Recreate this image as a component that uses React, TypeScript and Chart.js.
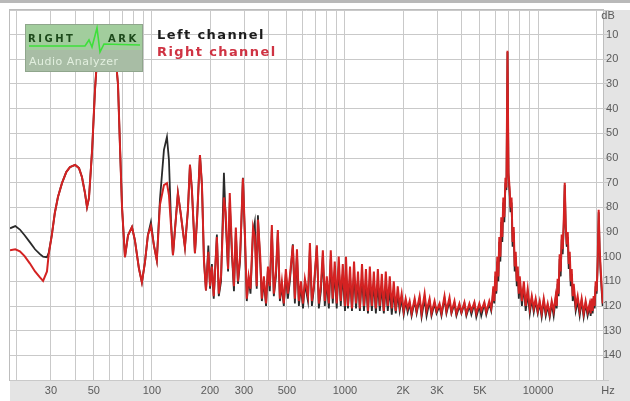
import React, { useEffect, useRef } from 'react';
import { Chart, registerables } from 'chart.js';

Chart.register(...registerables);

// ---------- data: frequency (Hz) and level (dB) ----------
const freqLow = [18.4, 19.6, 20.7, 21.9, 23.3, 24.8, 26.3, 27.3, 28.6, 29.2, 30.3, 31.4, 32.6, 34.2, 36.0, 37.6, 40.0, 41.9, 43.4, 45.0, 46.1, 47.2, 49.0, 50.7, 52.6, 55.8, 59.2, 60.6, 62.8, 65.0, 66.7, 68.3, 70.0, 72.5, 75.2, 78.8, 81.6, 85.6, 88.7, 92.0, 95.3, 98.8, 102.4, 106, 110, 115.4, 119.6, 122.5, 125.5, 128.5, 131.6, 136.3, 141.3, 148.2, 153.6, 157.4, 161.1, 167, 171.2, 177.3, 181.6, 186, 190.5];
const leftLow = [-88.5, -87.6, -89.0, -91.3, -94.1, -97.0, -99.0, -100.0, -100.2, -98.5, -91.3, -82.3, -75.8, -70.2, -65.7, -63.7, -62.8, -64.1, -67.7, -74.2, -79.9, -76.2, -56.7, -32.4, -14, -9, -7, -7.5, -10, -20, -30, -55, -80, -100.2, -91.3, -88.0, -93.3, -104.7, -110.4, -102.3, -91.3, -86.0, -95.4, -101.5, -77, -56.7, -51.5, -60.8, -85.2, -99.4, -89.2, -74.2, -83.2, -96.2, -81.1, -62.8, -73, -98.6, -85.2, -58.8, -71, -101.5, -113.7];
const rightLow = [-97.4, -97.0, -97.8, -99.8, -102.7, -106.0, -108.4, -109.8, -106.0, -99.0, -91.3, -82.3, -75.8, -70.2, -65.7, -63.7, -62.8, -64.1, -67.7, -74.2, -79.9, -76.2, -56.7, -32.4, -14, -9, -7, -7.5, -10, -20, -30, -55, -80, -100.2, -91.3, -88.0, -93.3, -104.7, -110.4, -102.3, -91.3, -87.6, -95.4, -101.5, -79, -71, -70.2, -75, -87.2, -99.4, -89.2, -74.2, -83.2, -96.2, -81.1, -62.8, -73, -98.6, -85.2, -58.8, -71, -101.5, -113.7];

const freqHarm = [196, 200, 204.5, 209, 217, 222, 228, 236, 241, 248, 253, 260, 266, 272, 279, 286, 296, 303, 310, 317, 324, 334, 341, 349, 354, 364, 371, 380, 390, 399, 408, 418, 428, 439, 449, 460, 471, 482, 494, 506, 518, 537, 550, 564, 577, 591, 606, 620, 643, 658, 674, 690, 715, 732, 750, 768, 786, 805, 825, 844, 864, 885, 906, 928, 951, 974, 1000];
const leftHarm = [-95.5, -113, -103, -117, -91, -116, -110, -66, -85, -106, -78, -100, -114, -90, -111, -102, -68, -92, -118, -109, -115, -90, -86, -113, -83.2, -103, -118, -110, -120, -105, -114, -89, -116, -108, -90, -118, -112, -120, -107, -117, -110, -95, -119, -99, -120, -112, -121, -111, -118, -97, -120, -113, -96, -121, -114, -100, -120, -110, -121, -101, -119, -106, -121, -104, -120, -107, -122];
const rightHarm = [-98, -112, -104, -116, -92, -115, -108, -76, -82, -105, -74.2, -98, -112, -88.2, -110, -100, -68.2, -90, -117, -108, -113, -88.2, -92, -112, -85, -100, -117, -108, -119, -104, -112, -87.2, -115, -106, -89.2, -117, -110, -119, -105, -115, -108, -95.4, -117, -97, -118, -110, -119, -109, -116, -94.5, -118, -112, -95.4, -119, -112, -97.4, -118, -108, -119, -97.4, -117, -102, -119, -100, -118, -103, -120];

const freqKilo = [1012, 1036, 1062, 1087, 1114, 1141, 1168, 1194, 1225, 1254, 1284, 1315, 1345, 1378, 1411, 1445, 1480, 1515, 1552, 1589, 1627, 1666, 1706, 1747, 1789, 1832, 1876, 1920, 1966, 2014, 2062, 2112];
const leftKilo = [-106, -121, -108, -122, -107, -121, -109, -122, -108, -122, -110, -123, -109, -122, -110, -123, -111, -122, -112, -123, -112, -122, -113, -123.5, -114, -123, -115, -122, -117, -123.5, -118, -122.5];
const rightKilo = [-100, -120, -104, -121, -102, -119, -106, -121, -103, -120, -105, -122, -104, -120, -106, -121, -105, -120, -107, -122, -106, -120, -108, -121, -110, -122, -112, -120, -115, -122, -117, -121];

const freqFloor = [2162, 2213, 2295, 2350, 2435, 2493, 2585, 2646, 2742, 2806, 2910, 2980, 3088, 3160, 3277, 3354, 3478, 3560, 3690, 3778, 3915, 4010, 4155, 4254, 4410, 4515, 4680, 4790, 4965, 5080, 5270, 5395, 5590, 5720];
const leftFloor = [-119, -124, -118, -123, -117, -124.5, -117, -124, -118, -124, -119, -123, -120, -124, -117, -123, -118, -123, -119, -124, -120, -123, -119, -124, -120, -123.5, -119, -124.5, -120, -124, -119, -123.5, -119, -122];
const rightFloor = [-118, -123, -117, -122, -116, -123, -115, -122, -117, -123, -118, -122, -119, -123, -116, -122, -116.5, -122.5, -118, -123, -119, -122.5, -118.5, -123, -119, -122, -118.5, -123, -119, -122, -118.5, -122.5, -118, -121];

const freqTone7k = [5800, 5870, 5935, 6010, 6080, 6150, 6230, 6300, 6380, 6450, 6530, 6610, 6690, 6780, 6860, 6945, 7030, 7120, 7200, 7290, 7380, 7480, 7570, 7660, 7760, 7850, 7950, 8040, 8250, 8440, 8630, 8840, 9060];
const leftTone7k = [-118, -113, -119, -108, -115, -102, -110, -94, -102, -86, -94, -78, -86, -70, -73, -17, -67, -74, -82, -78, -96, -90, -106, -100, -112, -106, -117, -110, -120, -112, -122, -115, -123];
const rightTone7k = [-117, -112, -118, -106, -114, -100, -108, -92, -100, -84, -92, -76, -84, -68, -72, -16.5, -66, -72, -80, -76, -94, -88, -104, -98, -110, -104, -115, -108, -118, -110, -120, -113, -121];

const freqMidHigh = [9280, 9500, 9720, 9960, 10200, 10440, 10700, 10960, 11220, 11490, 11770, 12050, 12340, 12490];
const leftMidHigh = [-117, -122.5, -118, -123, -119, -124.5, -118, -124, -120, -124.5, -119, -124, -117, -121];
const rightMidHigh = [-116, -121, -117, -122, -118, -123, -117, -122.5, -119, -123.5, -118, -122, -116, -120];

const freqTone14k = [12630, 12780, 12940, 13100, 13260, 13420, 13580, 13750, 13910, 14080, 14250, 14420, 14590, 14770, 14940, 15120, 15300, 15670, 16040, 16430, 16820, 17230, 17640, 18060, 18510, 18730, 18950, 19180, 19410, 19640];
const leftTone14k = [-111, -116, -101, -108, -93, -99, -88, -71, -88, -96, -92, -105, -100, -112, -107, -118, -113, -122, -118, -124, -118, -124.5, -119, -124, -120, -124, -118, -123, -117, -121];
const rightTone14k = [-109, -115, -99, -106, -91, -97, -86, -70, -87, -95, -90, -103, -98, -110, -105, -116, -111, -120, -116, -122, -117, -123, -118, -122.5, -119, -123, -117, -122, -116, -120];

const freqTone21k = [19880, 20120, 20360, 20610, 20860, 21110, 21360, 21620];
const leftTone21k = [-112, -115, -104, -82, -98, -107, -114, -120];
const rightTone21k = [-110, -114, -102, -81, -97, -105, -112, -119];

// ---------- axes / labels ----------
const xGridValues = [20, 30, 40, 50, 60, 70, 80, 90, 100, 200, 300, 400, 500, 600, 700, 800, 900, 1000, 2000, 3000, 4000, 5000, 6000, 7000, 8000, 9000, 10000, 20000];
const xTickLabels: Record<number, string> = { 30: '30', 50: '50', 100: '100', 200: '200', 300: '300', 500: '500', 1000: '1000', 2000: '2K', 3000: '3K', 5000: '5K', 10000: '10000' };
const xUnit = 'Hz';
const yUnit = 'dB';
const seriesNames = ['Left channel', 'Right channel'];
const logoWords = ['RIGHT', 'ARK', 'Audio Analyzer'];

const tickFamily = '"Liberation Sans", Arial, sans-serif';

export default function App() {
  const ref = useRef<HTMLCanvasElement>(null);

  useEffect(() => {
    document.body.style.margin = '0';
    const freqs = [...freqLow, ...freqHarm, ...freqKilo, ...freqFloor, ...freqTone7k, ...freqMidHigh, ...freqTone14k, ...freqTone21k];
    const left = [...leftLow, ...leftHarm, ...leftKilo, ...leftFloor, ...leftTone7k, ...leftMidHigh, ...leftTone14k, ...leftTone21k];
    const right = [...rightLow, ...rightHarm, ...rightKilo, ...rightFloor, ...rightTone7k, ...rightMidHigh, ...rightTone14k, ...rightTone21k];
    const toPts = (vals: number[]) => freqs.map((f, i) => ({ x: f, y: vals[i] }));

    const decor = {
      id: 'decor',
      beforeDraw(chart: any) {
        const { ctx, width, height, chartArea: a } = chart;
        ctx.save();
        ctx.fillStyle = '#ffffff';
        ctx.fillRect(0, 0, width, height);
        ctx.fillStyle = '#b9b9b9';
        ctx.fillRect(0, 0, width, 3);
        ctx.fillStyle = '#e4e4e4';
        ctx.fillRect(a.right, a.top, width - a.right, height - a.top);
        ctx.fillRect(a.left, a.bottom, a.right - a.left, height - a.bottom);
        ctx.strokeStyle = '#bdbdbd';
        ctx.lineWidth = 1;
        ctx.strokeRect(a.left - 0.5, a.top - 0.5, a.right - a.left + 1, a.bottom - a.top + 1);
        ctx.restore();
      },
      afterDatasetsDraw(chart: any) {
        const { ctx } = chart;
        ctx.save();
        // logo
        ctx.fillStyle = '#a2cd9d';
        ctx.fillRect(25, 24, 118, 26);
        ctx.fillStyle = '#a8bda5';
        ctx.fillRect(25, 50, 118, 22);
        ctx.strokeStyle = '#8fa68c';
        ctx.lineWidth = 1;
        ctx.strokeRect(25.5, 24.5, 117, 47);
        ctx.strokeStyle = '#3ee03a';
        ctx.lineWidth = 1.6;
        ctx.beginPath();
        ctx.moveTo(29, 46);
        ctx.lineTo(85, 46);
        ctx.lineTo(89, 40);
        ctx.lineTo(92, 47);
        ctx.lineTo(97, 28);
        ctx.lineTo(100, 52);
        ctx.lineTo(104, 44);
        ctx.lineTo(140, 45);
        ctx.stroke();
        ctx.fillStyle = '#1d4a1b';
        ctx.font = 'bold 10px "DejaVu Sans", sans-serif';
        ctx.textBaseline = 'middle';
        ctx.textAlign = 'left';
        (ctx as any).letterSpacing = '2.5px';
        ctx.fillText(logoWords[0], 28, 39);
        ctx.fillText(logoWords[1], 108, 39);
        (ctx as any).letterSpacing = '0.5px';
        ctx.fillStyle = '#e2efdf';
        ctx.font = '11px "DejaVu Sans", sans-serif';
        ctx.fillText(logoWords[2], 29, 62);
        // legend text
        (ctx as any).letterSpacing = '1.4px';
        ctx.font = 'bold 13px "DejaVu Sans", sans-serif';
        ctx.fillStyle = '#1c1c1c';
        ctx.fillText(seriesNames[0], 157, 36);
        ctx.fillStyle = '#cf3343';
        ctx.fillText(seriesNames[1], 157, 53);
        (ctx as any).letterSpacing = '0px';
        // units
        ctx.font = '11px ' + tickFamily;
        ctx.fillStyle = '#5a5a5a';
        ctx.textAlign = 'center';
        ctx.fillText(yUnit, 608, 16);
        ctx.fillText(xUnit, 608, 391);
        ctx.restore();
      },
    };

    const chart = new Chart(ref.current as HTMLCanvasElement, {
      type: 'line',
      data: {
        datasets: [
          {
            label: seriesNames[1],
            data: toPts(right),
            borderColor: 'rgb(212,34,34)',
            borderWidth: 2,
            pointRadius: 0,
            tension: 0,
            order: 0,
          },
          {
            label: seriesNames[0],
            data: toPts(left),
            borderColor: '#2a2a2a',
            borderWidth: 1.8,
            pointRadius: 0,
            tension: 0,
            order: 1,
          },
        ],
      },
      options: {
        responsive: false,
        maintainAspectRatio: false,
        animation: false,
        devicePixelRatio: 1,
        events: [],
        layout: { padding: { left: 10, top: 10, right: 0, bottom: 0 } },
        plugins: { legend: { display: false }, tooltip: { enabled: false } },
        scales: {
          x: {
            type: 'logarithmic',
            min: 18.4,
            max: 21700,
            afterBuildTicks: (s: any) => {
              s.ticks = xGridValues.map((v) => ({ value: v }));
            },
            afterFit: (s: any) => {
              s.height = 21;
            },
            grid: { color: '#c9c9c9', lineWidth: 1, drawTicks: false },
            border: { display: false },
            ticks: {
              autoSkip: false,
              maxRotation: 0,
              minRotation: 0,
              padding: 4,
              color: '#5a5a5a',
              font: { family: tickFamily, size: 11 },
              callback: (v: any) => xTickLabels[Number(v)] ?? '',
            },
          },
          y: {
            position: 'right',
            min: -150,
            max: 0,
            afterFit: (s: any) => {
              s.width = 27;
            },
            grid: { color: '#c9c9c9', lineWidth: 1, tickLength: 6 },
            border: { display: false },
            ticks: {
              stepSize: 10,
              crossAlign: 'center',
              padding: -6,
              color: '#5a5a5a',
              font: { family: tickFamily, size: 11 },
              callback: (v: any) => (v === 0 || v === -150 ? '' : String(-v)),
            },
          },
        },
      } as any,
      plugins: [decor],
    });
    return () => chart.destroy();
  }, []);

  return <canvas ref={ref} width={630} height={401} style={{ display: 'block', width: 630, height: 401 }} />;
}
